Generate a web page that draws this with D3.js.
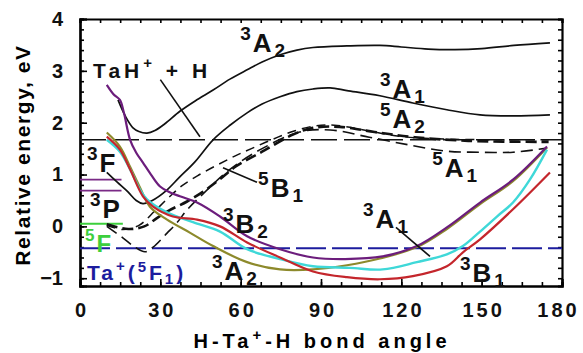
<!DOCTYPE html>
<html>
<head>
<meta charset="utf-8">
<script src="https://cdn.jsdelivr.net/npm/d3@7"></script>
<style>
  body { margin: 0; background: #fff; }
  text { font-family: "Liberation Sans", Arial, sans-serif; font-weight: bold; }
</style>
</head>
<body>
<div id="chart-area"></div>
<script>
// bond angle (deg) / relative energy (eV) pairs
var tripletB2 = [[10,2.73],[12.5,2.55],[14.9,2.44],[16.4,2.19],[18.7,1.67],[21,1.42],[23.5,1.23],[26.5,1.0],[29.9,0.77],[33.5,0.66],[37.3,0.58],[43.7,0.46],[52.3,0.19],[62.4,-0.19],[74.7,-0.44],[87,-0.6],[99,-0.63],[113,-0.58],[125.8,-0.38],[137,-0.02],[149.4,0.46],[161.7,0.9],[174.4,1.54]];
var tripletA2low = [[10,1.81],[14.9,1.54],[18.7,1.15],[22.4,0.75],[26.1,0.38],[32.5,0.13],[41,-0.12],[49.7,-0.38],[62.4,-0.69],[74.7,-0.83],[87,-0.83],[99.7,-0.75],[112,-0.62],[125.8,-0.4],[137,-0.05],[149.4,0.43],[161.7,0.87],[174.4,1.52]];
var cyanState = [[10,1.67],[14.9,1.44],[18.7,1.1],[22.4,0.71],[25,0.52],[32.5,0.27],[42.2,0.08],[52.3,-0.1],[62.4,-0.44],[74.7,-0.63],[87,-0.77],[100.8,-0.8],[113,-0.83],[125.8,-0.69],[137,-0.54],[143,-0.38],[149.4,-0.1],[155.7,0.19],[161.7,0.46],[168,0.9],[174.4,1.48]];
var tripletB1 = [[10,1.73],[14.9,1.48],[18.7,1.1],[23.5,0.58],[27.3,0.38],[34.7,0.19],[43.7,0.13],[52.3,0.0],[62.4,-0.31],[74.7,-0.6],[87,-0.87],[99.7,-0.98],[112,-1.02],[124.3,-0.96],[137,-0.77],[143,-0.5],[149.4,-0.25],[161.7,0.33],[175.5,1.04]];

var tripletA2up = [[14.2,2.44],[17,2.12],[19.8,1.9],[22,1.83],[25,1.8],[28,1.85],[31.7,1.98],[37.3,2.22],[43,2.42],[49.7,2.63],[56,2.84],[62.4,3.02],[68,3.17],[74.7,3.31],[81,3.4],[87,3.45],[99.7,3.48],[112,3.49],[120,3.46],[130,3.42],[140,3.41],[150,3.43],[162,3.49],[175.5,3.54]];
var tripletA1 = [[10,1.04],[14,0.85],[18,0.66],[21,0.5],[23.5,0.44],[27,0.5],[32,0.68],[37,0.94],[43,1.25],[49.7,1.67],[56,1.95],[62.4,2.19],[68,2.36],[74.7,2.5],[81,2.6],[87,2.65],[93.4,2.67],[99.7,2.62],[112,2.52],[124.3,2.38],[137,2.25],[149.4,2.15],[162,2.13],[175.5,2.15]];
var quintetA2 = [[10,0.02],[16,-0.06],[22,0.02],[28,0.3],[33,0.55],[38,0.78],[44,0.98],[51.5,1.19],[58,1.36],[64,1.5],[72,1.68],[80,1.84],[88,1.94],[95,1.95],[105,1.87],[115,1.77],[125,1.71],[140,1.68],[160,1.67],[175,1.67]];
var quintetB1 = [[10,0.04],[18,-0.05],[24,0.0],[29,0.17],[33,0.3],[40,0.48],[46,0.67],[52,0.9],[58,1.15],[68,1.44],[79.5,1.77],[87,1.9],[97,1.92],[110,1.82],[125,1.72],[145,1.65],[175,1.63]];
var quintetA1 = [[10,0.0],[16,-0.22],[20,-0.38],[24.3,-0.49],[27.3,-0.4],[32.5,-0.13],[36.2,0.07],[40,0.32],[44.8,0.57],[56,1.1],[68,1.5],[82,1.82],[93.4,1.86],[108,1.72],[123,1.57],[137,1.45],[149.4,1.43],[161.7,1.43],[174.4,1.51]];

// atomic asymptotes
var taHLevel = 1.67;        // TaH+ + H
var taGround = -0.42;       // Ta+(5F1)
var levels3F = [0.9, 0.69];
var level5F = 0.05;

var xTicks = [0, 30, 60, 90, 120, 150, 180];
var yTicks = [-1, 0, 1, 2, 3, 4];

var margin = { left: 80, right: 21, top: 19, bottom: 67 };
var W = 583, H = 353;
var width = W - margin.left - margin.right,
    height = H - margin.top - margin.bottom;

var svg = d3.select("#chart-area").append("svg")
    .attr("width", W).attr("height", H);
var g = svg.append("g")
    .attr("transform", "translate(" + margin.left + "," + margin.top + ")");

var x = d3.scaleLinear().domain([0, 180]).range([0, width]);
var y = d3.scaleLinear().domain([-1.15, 4]).range([height, 0]);

svg.append("clipPath").attr("id", "plot")
    .append("rect").attr("width", width).attr("height", height);

// AXES (ticks pointing inward on all four sides)
function styleAxis(sel) {
    sel.selectAll("path.domain").attr("stroke-width", 2.2);
    sel.selectAll(".tick line").attr("stroke-width", 1.6);
    sel.selectAll("text").attr("font-size", 20).attr("fill", "#111");
}
var minorX = d3.range(0, 180.01, 7.5), minorY = d3.range(-1, 4.01, 0.2);

g.append("g").attr("transform", "translate(0," + height + ")")
    .call(d3.axisBottom(x).tickValues(minorX).tickSize(-4).tickFormat(""))
    .call(styleAxis);
g.append("g").attr("transform", "translate(0," + height + ")")
    .call(d3.axisBottom(x).tickValues(xTicks).tickSize(-7).tickPadding(17).tickFormat(d3.format("d")))
    .call(styleAxis)
    .selectAll("text").attr("letter-spacing", 3)
    .attr("dx", function (d) { return d === 180 ? -4 : 1.5; });
g.append("g").call(d3.axisTop(x).tickValues(minorX).tickSize(-4).tickFormat("")).call(styleAxis);
g.append("g").call(d3.axisLeft(y).tickValues(minorY).tickSize(-4).tickFormat("")).call(styleAxis);
g.append("g").call(d3.axisLeft(y).tickValues(yTicks).tickSize(-7).tickPadding(17).tickFormat(d3.format("d")))
    .call(styleAxis);
g.append("g").attr("transform", "translate(" + width + ",0)")
    .call(d3.axisRight(y).tickValues(minorY).tickSize(-4).tickFormat("")).call(styleAxis);

// AXIS TITLES
var xTitle = svg.append("text")
    .attr("x", 322).attr("y", 348)
    .attr("text-anchor", "middle").attr("font-size", 20).attr("letter-spacing", 4);
xTitle.append("tspan").text("H-Ta");
xTitle.append("tspan").attr("dy", -8).attr("font-size", 15).text("+");
xTitle.append("tspan").attr("dy", 8).text("-H bond angle");

svg.append("text")
    .attr("transform", "translate(30,155) rotate(-90)")
    .attr("text-anchor", "middle").attr("font-size", 21).attr("letter-spacing", 1.6)
    .text("Relative energy, eV");

var plot = g.append("g").attr("clip-path", "url(#plot)");

// HORIZONTAL ASYMPTOTES
plot.append("line").attr("x1", 0).attr("x2", width)
    .attr("y1", y(taHLevel)).attr("y2", y(taHLevel))
    .attr("stroke", "#111").attr("stroke-width", 1.6).attr("stroke-dasharray", "26,7");
plot.append("line").attr("x1", 0).attr("x2", width)
    .attr("y1", y(taGround)).attr("y2", y(taGround))
    .attr("stroke", "#1c1c9e").attr("stroke-width", 2).attr("stroke-dasharray", "30,6");
plot.selectAll(".lev3f").data(levels3F).enter().append("line")
    .attr("x1", x(0)).attr("x2", x(15.5))
    .attr("y1", function (d) { return y(d); }).attr("y2", function (d) { return y(d); })
    .attr("stroke", "#7a2a86").attr("stroke-width", 1.8);
plot.append("line").attr("x1", x(0)).attr("x2", x(16))
    .attr("y1", y(level5F)).attr("y2", y(level5F))
    .attr("stroke", "#3ccf3c").attr("stroke-width", 2);

// CURVES
var line = d3.line()
    .x(function (d) { return x(d[0]); })
    .y(function (d) { return y(d[1]); })
    .curve(d3.curveCatmullRom.alpha(0.5));

var curves = [
    { data: quintetA2, color: "#111", w: 1.5, dash: "9,6" },
    { data: quintetB1, color: "#111", w: 2.6, dash: "11,5" },
    { data: quintetA1, color: "#111", w: 1.6, dash: "12,6" },
    { data: tripletA2up, color: "#111", w: 1.7, dash: null },
    { data: tripletA1, color: "#111", w: 1.7, dash: null },
    { data: tripletA2low, color: "#8d8a2c", w: 2.2, dash: null },
    { data: cyanState, color: "#3fd8d8", w: 2.4, dash: null },
    { data: tripletB1, color: "#c4262c", w: 2.2, dash: null },
    { data: tripletB2, color: "#6c1d7c", w: 2.2, dash: null }
];
plot.selectAll("path.curve").data(curves).enter().append("path")
    .attr("class", "curve")
    .attr("d", function (d) { return line(d.data); })
    .attr("fill", "none")
    .attr("stroke", function (d) { return d.color; })
    .attr("stroke-width", function (d) { return d.w; })
    .attr("stroke-dasharray", function (d) { return d.dash; });

// LEADER LINES
var leaders = [[[30, 2.83], [44.8, 1.73]], [[53.4, 1.13], [66.1, 0.85]], [[118, -0.02], [130.7, -0.58]]];
g.selectAll(".leader").data(leaders).enter().append("line")
    .attr("x1", function (d) { return x(d[0][0]); }).attr("y1", function (d) { return y(d[0][1]); })
    .attr("x2", function (d) { return x(d[1][0]); }).attr("y2", function (d) { return y(d[1][1]); })
    .attr("stroke", "#111").attr("stroke-width", 1.6);

// STATE LABELS
function stateLabel(ang, en, sup, main, sub, color, size) {
    var t = g.append("text").attr("x", x(ang)).attr("y", y(en))
        .attr("fill", color).attr("font-size", size).attr("letter-spacing", 1);
    var ss = Math.round(size * 0.72);
    t.append("tspan").attr("font-size", ss).attr("dy", -size * 0.45).text(sup);
    t.append("tspan").attr("dy", size * 0.45).attr("dx", 1).text(main);
    if (sub) t.append("tspan").attr("font-size", ss).attr("dy", size * 0.2).attr("dx", 2).text(sub);
}
stateLabel(59.8, 3.36, "3", "A", "2", "#111", 26);
stateLabel(112, 2.48, "3", "A", "1", "#111", 26);
stateLabel(112, 1.9, "5", "A", "2", "#111", 26);
stateLabel(131.5, 0.95, "5", "A", "1", "#111", 26);
stateLabel(66.5, 0.57, "5", "B", "1", "#111", 26);
stateLabel(53.4, -0.13, "3", "B", "2", "#111", 26);
stateLabel(49.3, -1.03, "3", "A", "2", "#111", 26);
stateLabel(105.7, -0.03, "3", "A", "1", "#111", 26);
stateLabel(141.9, -1.07, "3", "B", "1", "#111", 26);
stateLabel(2.6, 1.05, "3", "F", null, "#111", 26);
stateLabel(3.7, 0.16, "3", "P", null, "#111", 26);
stateLabel(1.9, -0.49, "5", "F", null, "#3ccf3c", 24);

var taLab = g.append("text").attr("x", x(2.6)).attr("y", y(-1.03))
    .attr("fill", "#1c1c9e").attr("font-size", 21).attr("letter-spacing", 3);
taLab.append("tspan").text("Ta");
taLab.append("tspan").attr("dy", -9).attr("font-size", 15).text("+");
taLab.append("tspan").attr("dy", 9).text("(");
taLab.append("tspan").attr("dy", -8).attr("font-size", 15).text("5");
taLab.append("tspan").attr("dy", 8).text("F");
taLab.append("tspan").attr("dy", 4).attr("font-size", 15).text("1");
taLab.append("tspan").attr("dy", -4).text(")");

var tahLab = g.append("text").attr("x", x(4.9)).attr("y", y(2.86))
    .attr("fill", "#111").attr("font-size", 21).attr("letter-spacing", 4);
tahLab.append("tspan").text("TaH");
tahLab.append("tspan").attr("dy", -10).attr("font-size", 15).text("+");
tahLab.append("tspan").attr("dy", 10).text(" + H");
</script>
</body>
</html>
